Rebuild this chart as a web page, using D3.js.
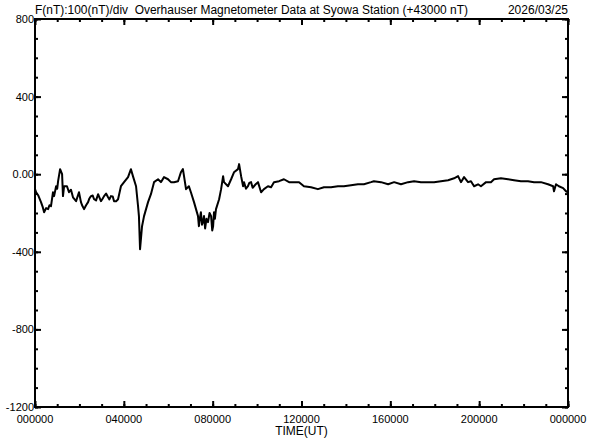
<!DOCTYPE html>
<html>
<head>
<meta charset="utf-8">
<script src="https://cdn.jsdelivr.net/npm/d3@7"></script>
<style>
  html, body { margin: 0; padding: 0; background: #fff; }
  svg { display: block; }
  text { font-family: "Liberation Sans", Arial, sans-serif; fill: #000; white-space: pre; }
</style>
</head>
<body>
<svg id="chart" width="592" height="440"></svg>
<script>
// ---- data (hours UT, nT offset from 43000) ----
const hours = [
  0,0.05,0.15,0.27,0.35,0.41,0.5,0.59,0.65,0.72,0.81,0.86,0.95,1.0,1.04,1.13,1.22,1.26,1.31,
  1.44,1.53,1.62,1.71,1.85,1.98,2.07,2.12,2.21,2.30,2.39,2.45,2.52,2.60,2.66,2.75,2.84,2.90,2.97,3.05,3.11,3.20,3.29,3.35,3.42,3.50,3.56,3.65,3.74,3.87,4.01,
  4.19,4.32,4.41,4.55,4.64,4.68,4.73,4.82,4.91,5.09,5.22,5.36,5.54,5.67,5.81,5.99,6.12,6.26,6.44,6.57,6.66,6.71,6.80,6.93,7.02,7.16,
  7.34,7.38,7.42,7.47,7.52,7.56,7.61,7.66,7.72,7.79,7.86,7.93,7.98,8.02,8.06,8.10,8.15,
  8.29,8.38,8.47,8.51,8.69,8.83,8.96,9.14,9.19,9.28,9.37,9.41,9.50,9.59,9.65,9.73,9.80,9.86,9.95,10.04,10.18,
  10.31,10.49,10.63,10.76,10.99,11.21,11.44,11.66,11.89,12.11,12.43,12.74,13.01,13.33,13.64,13.91,14.23,14.54,14.81,15.13,15.26,15.58,15.90,16.17,16.48,16.80,17.07,17.38,17.70,17.97,18.28,18.60,18.87,19.05,19.18,19.32,19.50,19.63,19.77,19.95,20.08,20.31,20.53,20.67,20.98,21.30,21.57,21.88,22.20,22.47,22.78,23.10,23.33,23.37,23.46,23.59,23.78,23.91,24.0
];
const values = [
  -77,-93,-110,-144,-170,-196,-175,-180,-160,-165,-93,-113,-62,-75,-36,26,0,-113,-62,
  -62,-93,-80,-119,-139,-93,-144,-160,-180,-160,-144,-125,-113,-110,-129,-135,-103,-120,-139,-125,-113,-100,-119,-130,-113,-115,-139,-140,-129,-62,-41,
  -15,26,-10,-62,-165,-216,-387,-268,-216,-144,-103,-41,-26,-41,-15,-26,-41,-41,-36,10,26,-10,-77,-62,-93,-144,
  -216,-268,-230,-196,-260,-247,-216,-280,-230,-247,-200,-216,-290,-268,-196,-230,-180,
  -129,-77,-10,-41,-62,-26,10,26,52,-10,-62,-41,-75,-62,-45,-41,-70,-62,-50,-41,-93,
  -77,-62,-67,-41,-36,-26,-41,-41,-41,-62,-67,-77,-67,-67,-62,-62,-57,-52,-52,-41,-36,-41,-52,-41,-52,-41,-36,-41,-41,-41,-36,-31,-21,-10,-41,-15,-41,-36,-62,-52,-62,-41,-41,-26,-21,-26,-31,-36,-36,-41,-41,-52,-62,-88,-52,-62,-72,-88,-93
];

const xMajorTicks = [0,4,8,12,16,20,24];
const xMinorTicks = d3.range(0,25,1);
const yMajorTicks = [800,400,0,-400,-800,-1200];
const yMinorTicks = d3.range(-1200,801,100);
const yTickLabels = ["800","400","0.00","-400","-800","-1200"];
const xTickLabels = ["000000","040000","080000","120000","160000","200000","000000"];

const titleText = "F(nT):100(nT)/div  Overhauser Magnetometer Data at Syowa Station (+43000 nT)";
const dateText = "2026/03/25";
const xTitle = "TIME(UT)";

// ---- layout ----
const svg = d3.select("#chart");
const padL = 35, padR = 568, padT = 19, padB = 407;
const x = d3.scaleLinear().domain([0,24]).range([padL,padR]);
const y = d3.scaleLinear().domain([-1200,800]).range([padB,padT]);

// ---- data line ----
const data = hours.map((h,i)=>({h, v: values[i]}));
svg.append("path")
  .datum(data)
  .attr("fill","none")
  .attr("stroke","#000")
  .attr("stroke-width",2)
  .attr("stroke-linejoin","round")
  .attr("d", d3.line().x(d=>x(d.h)).y(d=>y(d.v)));

// ---- axes (ticks pointing inward) ----
function styleAxis(g){
  g.select(".domain").remove();
  g.selectAll(".tick line").attr("stroke","#000").attr("stroke-width",2);
  g.selectAll(".tick text").remove();
}
svg.append("g").attr("transform",`translate(0,${padB})`)
  .call(d3.axisBottom(x).tickValues(xMinorTicks).tickSize(-3)).call(styleAxis);
svg.append("g").attr("transform",`translate(0,${padB})`)
  .call(d3.axisBottom(x).tickValues(xMajorTicks).tickSize(-6)).call(styleAxis);
svg.append("g").attr("transform",`translate(0,${padT})`)
  .call(d3.axisTop(x).tickValues(xMinorTicks).tickSize(-3)).call(styleAxis);
svg.append("g").attr("transform",`translate(0,${padT})`)
  .call(d3.axisTop(x).tickValues(xMajorTicks).tickSize(-6)).call(styleAxis);
svg.append("g").attr("transform",`translate(${padL},0)`)
  .call(d3.axisLeft(y).tickValues(yMinorTicks).tickSize(-3)).call(styleAxis);
svg.append("g").attr("transform",`translate(${padL},0)`)
  .call(d3.axisLeft(y).tickValues(yMajorTicks).tickSize(-6)).call(styleAxis);
svg.append("g").attr("transform",`translate(${padR},0)`)
  .call(d3.axisRight(y).tickValues(yMinorTicks).tickSize(-3)).call(styleAxis);
svg.append("g").attr("transform",`translate(${padR},0)`)
  .call(d3.axisRight(y).tickValues(yMajorTicks).tickSize(-6)).call(styleAxis);

// frame
svg.append("rect")
  .attr("x",padL).attr("y",padT)
  .attr("width",padR-padL).attr("height",padB-padT)
  .attr("fill","none").attr("stroke","#000").attr("stroke-width",2);

// tick labels
svg.append("g").selectAll("text").data(yMajorTicks).join("text")
  .attr("x", padL-1).attr("y", d=>y(d)+4)
  .attr("text-anchor","end").attr("font-size","11px")
  .text((d,i)=>yTickLabels[i]);
svg.append("g").selectAll("text").data(xMajorTicks).join("text")
  .attr("x", d=>x(d)).attr("y", padB+16)
  .attr("text-anchor","middle").attr("font-size","11px")
  .text((d,i)=>xTickLabels[i]);

// titles
svg.append("text").attr("x",padL).attr("y",14)
  .attr("font-size","12px")
  .attr("textLength",433).attr("lengthAdjust","spacingAndGlyphs")
  .text(titleText);
svg.append("text").attr("x",padR).attr("y",14)
  .attr("font-size","12px").attr("text-anchor","end")
  .text(dateText);
svg.append("text").attr("x",(padL+padR)/2).attr("y",435)
  .attr("font-size","12px").attr("text-anchor","middle")
  .text(xTitle);
</script>
</body>
</html>
